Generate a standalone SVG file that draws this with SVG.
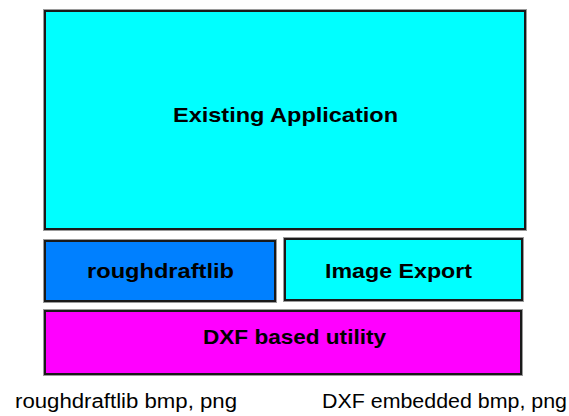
<svg xmlns="http://www.w3.org/2000/svg" width="569" height="416" viewBox="0 0 569 416">
<style>
.box{stroke:#1a1a1a;stroke-width:2}
.sh{fill:none;stroke:#9a9a9a;stroke-width:1}
.lbl{font-family:"Liberation Sans",Arial,sans-serif;font-weight:bold;font-size:20.5px;fill:#000;text-anchor:middle}
.cap{font-family:"Liberation Sans",Arial,sans-serif;font-size:20px;fill:#000}
</style>
<rect width="569" height="416" fill="#fff"/>
<g id="existing-application">
<rect class="sh" x="43.5" y="9.5" width="483" height="221"/>
<rect class="box" x="45" y="11" width="480" height="218" fill="#00FFFF"/>
<text class="lbl" x="285.5" y="122" textLength="225" lengthAdjust="spacingAndGlyphs">Existing Application</text>
</g>
<g id="roughdraftlib">
<rect class="sh" x="43.5" y="239.5" width="233" height="63"/>
<rect class="box" x="45" y="241" width="230" height="60" fill="#0080FF"/>
<text class="lbl" x="160.5" y="278" textLength="147" lengthAdjust="spacingAndGlyphs">roughdraftlib</text>
</g>
<g id="image-export">
<rect class="sh" x="283.5" y="237.5" width="240" height="64"/>
<rect class="box" x="285" y="239" width="237" height="61" fill="#00FFFF"/>
<text class="lbl" x="398.5" y="278" textLength="147" lengthAdjust="spacingAndGlyphs">Image Export</text>
</g>
<g id="dxf-utility">
<rect class="sh" x="43.5" y="309.5" width="479" height="66"/>
<rect class="box" x="45" y="311" width="476" height="63" fill="#FF00FF"/>
<text class="lbl" x="294.5" y="344" textLength="183" lengthAdjust="spacingAndGlyphs">DXF based utility</text>
</g>
<g id="connectors"></g>
<text class="cap" x="15" y="408" textLength="222" lengthAdjust="spacingAndGlyphs">roughdraftlib bmp, png</text>
<text class="cap" x="322" y="408" textLength="245" lengthAdjust="spacingAndGlyphs">DXF embedded bmp, png</text>
</svg>
